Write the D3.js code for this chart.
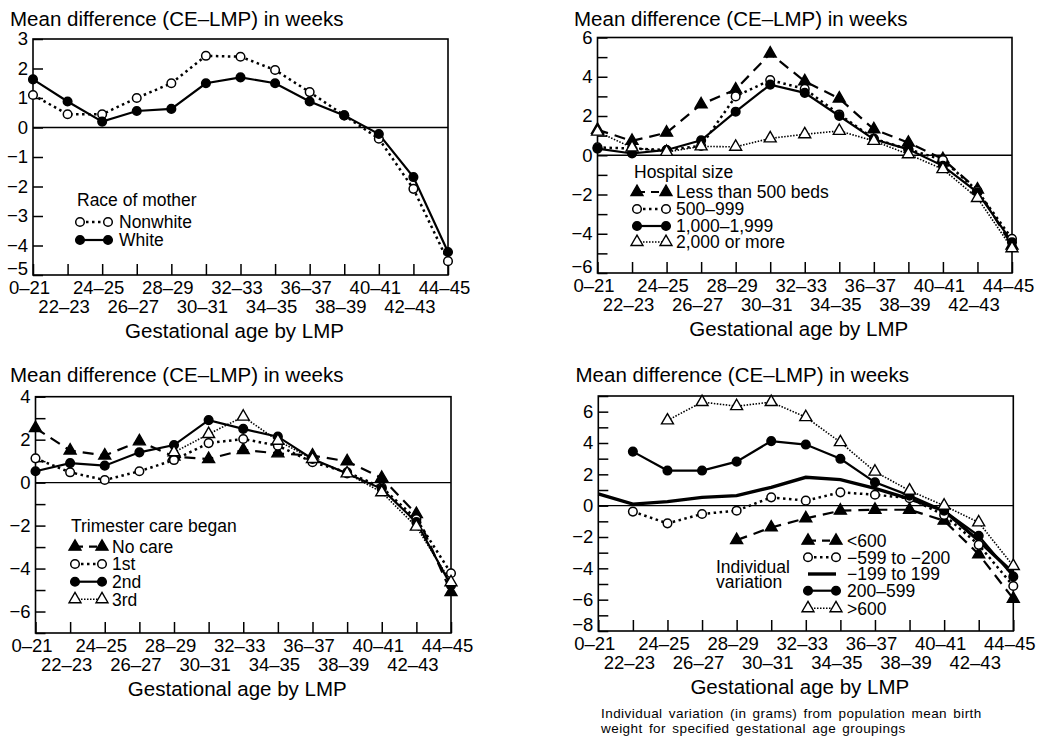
<!DOCTYPE html>
<html>
<head>
<meta charset="utf-8">
<script src="https://cdn.jsdelivr.net/npm/d3@7"></script>
<style>
  body { margin: 0; background: #fff; }
  svg { display: block; font-family: "Liberation Sans", Arial, Helvetica, sans-serif; }
</style>
</head>
<body>
<svg id="chart" width="1038" height="740"></svg>
<script>
// gestational age groups (x axis)
const ages = ["0–21", "22–23", "24–25", "26–27", "28–29", "30–31", "32–33",
              "34–35", "36–37", "38–39", "40–41", "42–43", "44–45"];

// panel 1 - race of mother
const raceNames = ["Nonwhite", "White"];
const raceNonwhite = [1.1, 0.45, 0.45, 1.0, 1.5, 2.43, 2.4, 1.95, 1.2, 0.41, -0.38, -2.08, -4.53];
const raceWhite    = [1.63, 0.88, 0.2, 0.56, 0.63, 1.5, 1.7, 1.5, 0.88, 0.41, -0.22, -1.68, -4.22];
const raceTicks = [3, 2, 1, 0, -1, -2, -3, -4, -5];

// panel 2 - hospital size
const hospNames = ["Less than 500 beds", "500–999", "1,000–1,999", "2,000 or more"];
const hospLt500 = [1.3, 0.73, 1.15, 2.59, 3.35, 5.18, 3.77, 2.89, 1.32, 0.64, -0.2, -1.75, -4.6];
const hosp500   = [0.4, 0.34, 0.27, 0.48, 3.0, 3.83, 3.38, 2.08, 0.85, 0.3, -0.24, -1.81, -4.26];
const hosp1000  = [0.34, 0.09, 0.27, 0.76, 2.22, 3.6, 3.18, 2.0, 0.81, 0.3, -0.54, -1.89, -4.43];
const hosp2000  = [1.2, 0.39, 0.17, 0.45, 0.43, 0.86, 1.07, 1.24, 0.73, 0.05, -0.71, -2.18, -4.74];
const hospTicks = [6, 4, 2, 0, -2, -4, -6];

// panel 3 - trimester care began
const careNames = ["No care", "1st", "2nd", "3rd"];
const careNone = [2.54, 1.49, 1.26, 1.92, 1.21, 1.1, 1.52, 1.36, 1.26, 0.99, 0.22, -1.46, -5.1];
const care1st  = [1.13, 0.48, 0.12, 0.53, 1.05, 1.84, 2.03, 1.72, 0.95, 0.48, -0.22, -1.69, -4.22];
const care2nd  = [0.53, 0.91, 0.79, 1.41, 1.75, 2.91, 2.5, 2.14, 1.1, 0.43, -0.29, -1.84, -4.79];
const care3rd  = [null, null, null, null, 1.41, 2.26, 3.07, 1.95, 1.1, 0.43, -0.45, -2.05, -4.64];
const careTicks = [4, 2, 0, -2, -4, -6];

// panel 4 - individual variation (grams)
const varNames = ["<600", "−599 to −200", "−199 to 199", "200–599", ">600"];
const varLt600 = [null, null, null, null, -2.2, -1.39, -0.81, -0.32, -0.26, -0.26, -0.96, -3.1, -5.94];
const varNeg   = [null, -0.38, -1.13, -0.53, -0.32, 0.53, 0.32, 0.85, 0.7, 0.47, -0.6, -2.5, -5.13];
const varMid   = [0.75, 0.1, 0.26, 0.53, 0.64, 1.17, 1.81, 1.66, 1.11, 0.43, -0.32, -2.24, -4.3];
const varPos   = [null, 3.45, 2.24, 2.24, 2.81, 4.12, 3.9, 2.99, 1.49, 0.64, -0.32, -1.92, -4.53];
const varGt600 = [null, null, 5.44, 6.61, 6.35, 6.61, 5.65, 4.05, 2.17, 0.96, 0, -1.07, -3.85];
const varTicks = [6, 4, 2, 0, -2, -4, -6, -8];

const titleText = "Mean difference (CE–LMP) in weeks";
const xTitle = "Gestational age by LMP";

// line + marker styles
const sty = {
    dashTri:  { dash: "11,7", legendDash: "8,6", width: 2.2, marker: "tri", fill: "#000" },
    dotCirc:  { dash: "2.5,3.5", width: 2.5, marker: "circle", fill: "#fff" },
    solidCirc:{ dash: null, width: 2.2, marker: "circle", fill: "#000" },
    fineTri:  { dash: "1.5,1.5", width: 1.6, marker: "tri", fill: "#fff" },
    thick:    { dash: null, width: 3.4, marker: null }
};

const svg = d3.select("#chart");
svg.append("rect").attr("width", 1038).attr("height", 740).attr("fill", "#fff");

function mark(g, s, x, y) {
    if (s.marker === "circle") {
        g.append("circle").attr("cx", x).attr("cy", y).attr("r", 4.3)
            .attr("fill", s.fill).attr("stroke", "#000").attr("stroke-width", 1.5);
    } else if (s.marker === "tri") {
        g.append("path").attr("d", d3.symbol(d3.symbolTriangle, 62)())
            .attr("transform", `translate(${x},${y})`)
            .attr("fill", s.fill).attr("stroke", "#000").attr("stroke-width", 1.4);
    }
}

function drawPanel(p) {
    const g = svg.append("g");
    const x = d3.scalePoint().domain(ages).range([p.left, p.right]).padding(0);
    const y = d3.scaleLinear().domain(p.yDomain).range([p.bottom, p.top]);

    // title
    g.append("text").attr("x", p.titleX).attr("y", p.titleY)
        .attr("font-size", 20.5).text(titleText);

    // y axis - ticks point inward, labels only on some ticks
    const yAx = g.append("g").attr("transform", `translate(${p.left},0)`)
        .call(d3.axisLeft(y)
            .tickValues(d3.range(p.yDomain[0], p.yDomain[1] + 1))
            .tickSizeInner(-10).tickSizeOuter(0).tickPadding(5)
            .tickFormat(d => p.yLabels.includes(d) ? d3.format("")(d) : ""));
    yAx.select(".domain").remove();
    yAx.attr("font-size", 18.5).attr("font-family", null);
    yAx.selectAll("line").attr("stroke-width", 1.5);
    yAx.selectAll("text").filter(function () { return this.textContent === ""; }).remove();
    // lowest label sits just above the corner so it clears the x labels
    yAx.selectAll("text").filter(d => d === p.yDomain[0]).attr("dy", "-0.05em");

    // x axis - two staggered rows of labels
    const xAx = g.append("g").attr("transform", `translate(0,${p.bottom})`)
        .call(d3.axisBottom(x).tickSizeInner(-11).tickSizeOuter(0));
    xAx.select(".domain").remove();
    xAx.attr("font-size", 18.5).attr("font-family", null);
    xAx.selectAll("line").attr("stroke-width", 1.5);
    xAx.selectAll("text").attr("dy", 0).attr("x", -4)
        .attr("y", (d, i) => i % 2 ? 38 : 18.5);

    g.append("text").attr("x", (p.left + p.right) / 2 - 6).attr("y", p.bottom + 63)
        .attr("text-anchor", "middle").attr("font-size", 20.5).text(xTitle);

    // frame and zero line
    g.append("rect").attr("x", p.left).attr("y", p.top)
        .attr("width", p.right - p.left).attr("height", p.bottom - p.top)
        .attr("fill", "none").attr("stroke", "#000").attr("stroke-width", 1.6);
    g.append("line").attr("x1", p.left).attr("x2", p.right)
        .attr("y1", y(0)).attr("y2", y(0)).attr("stroke", "#000").attr("stroke-width", 1.3);

    const line = d3.line()
        .defined(d => d != null)
        .x((d, i) => x(ages[i]))
        .y(d => y(d));

    p.series.forEach(s => {
        g.append("path").datum(s.values).attr("d", line)
            .attr("fill", "none").attr("stroke", "#000")
            .attr("stroke-width", s.style.width)
            .attr("stroke-dasharray", s.style.dash);
    });
    p.series.forEach(s => {
        s.values.forEach((v, i) => {
            if (v != null) mark(g, s.style, x(ages[i]), y(v));
        });
    });

    // legend
    const L = p.legend;
    if (L.title) g.append("text").attr("x", L.titleX).attr("y", L.titleY)
        .attr("font-size", 17.5).text(L.title);
    p.series.forEach((s, i) => {
        const ry = L.rows[i];
        g.append("line").attr("x1", L.x1).attr("x2", L.x2).attr("y1", ry).attr("y2", ry)
            .attr("stroke", "#000").attr("stroke-width", s.style.width)
            .attr("stroke-dasharray", s.style.legendDash || s.style.dash);
        mark(g, s.style, L.x1, ry);
        mark(g, s.style, L.x2, ry);
        g.append("text").attr("x", L.textX).attr("y", ry + 6.3)
            .attr("font-size", 17.5).text(s.name);
    });
}

drawPanel({
    left: 33, right: 448, top: 39, bottom: 275, yDomain: [-5, 3], yLabels: raceTicks,
    titleX: 10, titleY: 26,
    series: [
        { name: raceNames[0], values: raceNonwhite, style: sty.dotCirc },
        { name: raceNames[1], values: raceWhite, style: sty.solidCirc }
    ],
    legend: { title: "Race of mother", titleX: 77, titleY: 206, rows: [222, 240], x1: 80, x2: 108, textX: 119 }
});

drawPanel({
    left: 597.5, right: 1012, top: 37.5, bottom: 273, yDomain: [-6, 6], yLabels: hospTicks,
    titleX: 574, titleY: 26,
    series: [
        { name: hospNames[0], values: hospLt500, style: sty.dashTri },
        { name: hospNames[1], values: hosp500, style: sty.dotCirc },
        { name: hospNames[2], values: hosp1000, style: sty.solidCirc },
        { name: hospNames[3], values: hosp2000, style: sty.fineTri }
    ],
    legend: { title: "Hospital size", titleX: 634, titleY: 178, rows: [192, 209, 226, 242], x1: 637, x2: 666, textX: 676 }
});

drawPanel({
    left: 35.5, right: 451, top: 396.7, bottom: 633, yDomain: [-7, 4], yLabels: careTicks,
    titleX: 10, titleY: 382,
    series: [
        { name: careNames[0], values: careNone, style: sty.dashTri },
        { name: careNames[1], values: care1st, style: sty.dotCirc },
        { name: careNames[2], values: care2nd, style: sty.solidCirc },
        { name: careNames[3], values: care3rd, style: sty.fineTri }
    ],
    legend: { title: "Trimester care began", titleX: 71, titleY: 532, rows: [546.7, 564, 581.7, 599.3], x1: 75, x2: 102, textX: 112 }
});

drawPanel({
    left: 598.3, right: 1013.3, top: 396, bottom: 631, yDomain: [-8, 7], yLabels: varTicks,
    titleX: 575.5, titleY: 382,
    series: [
        { name: varNames[0], values: varLt600, style: sty.dashTri },
        { name: varNames[1], values: varNeg, style: sty.dotCirc },
        { name: varNames[2], values: varMid, style: sty.thick },
        { name: varNames[3], values: varPos, style: sty.solidCirc },
        { name: varNames[4], values: varGt600, style: sty.fineTri }
    ],
    legend: { title: null, rows: [540.7, 557.3, 574, 590.7, 608.3], x1: 808, x2: 836, textX: 847 }
});

// extra labels for panel 4
svg.append("text").attr("x", 716).attr("y", 573).attr("font-size", 17.5).text("Individual");
svg.append("text").attr("x", 716).attr("y", 588).attr("font-size", 17.5).text("variation");

const foot = svg.append("g").attr("font-size", 13.5)
    .attr("letter-spacing", "0.45px").attr("word-spacing", "2px");
foot.append("text").attr("x", 601).attr("y", 718).text("Individual variation (in grams) from population mean birth");
foot.append("text").attr("x", 601).attr("y", 733).text("weight for specified gestational age groupings");
</script>
</body>
</html>
